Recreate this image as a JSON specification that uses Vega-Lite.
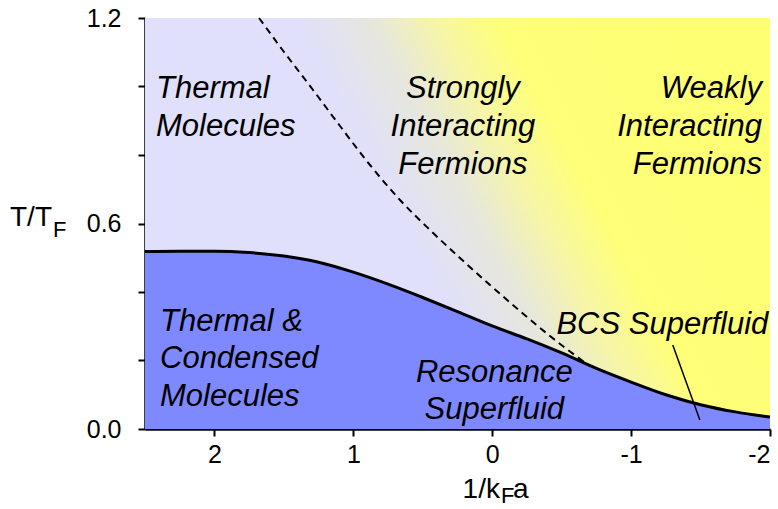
{
  "$schema": "https://vega.github.io/schema/vega-lite/v6.json",
  "width": 625,
  "height": 411,
  "autosize": {"type": "none"},
  "padding": {"left": 145, "top": 18, "right": 8, "bottom": 80},
  "background": "white",
  "config": {
    "view": {"stroke": null},
    "axis": {
      "grid": false,
      "domainColor": "black",
      "domainWidth": 2.5,
      "tickColor": "black",
      "tickWidth": 2,
      "tickSize": 7,
      "labelColor": "black",
      "labelFont": "Liberation Sans",
      "labelFontSize": 25
    }
  },
  "datasets": {
    "bg": [{"x": 2.5, "x2": -2, "y": 0, "y2": 1.2}],
    "tc": [
      {"x": 2.5, "y": 0.518}, {"x": 2.25, "y": 0.519}, {"x": 2.0, "y": 0.519},
      {"x": 1.75, "y": 0.515}, {"x": 1.5, "y": 0.505}, {"x": 1.25, "y": 0.487},
      {"x": 1.0, "y": 0.458}, {"x": 0.75, "y": 0.423}, {"x": 0.5, "y": 0.384},
      {"x": 0.25, "y": 0.343}, {"x": 0.0, "y": 0.301}, {"x": -0.25, "y": 0.263},
      {"x": -0.5, "y": 0.222}, {"x": -0.75, "y": 0.177}, {"x": -1.0, "y": 0.137},
      {"x": -1.25, "y": 0.100}, {"x": -1.5, "y": 0.071}, {"x": -1.75, "y": 0.050},
      {"x": -2.0, "y": 0.035}
    ],
    "dash": [
      {"x": 1.679, "y": 1.2}, {"x": 1.499, "y": 1.1007}, {"x": 1.29, "y": 0.9898},
      {"x": 1.096, "y": 0.8847}, {"x": 0.88, "y": 0.7708}, {"x": 0.664, "y": 0.6686},
      {"x": 0.448, "y": 0.581}, {"x": 0.232, "y": 0.4993}, {"x": 0.016, "y": 0.4204},
      {"x": -0.2, "y": 0.3445}, {"x": -0.416, "y": 0.2715}, {"x": -0.704, "y": 0.183}
    ],
    "pointer": [{"x": -1.30, "y": 0.245, "x2": -1.495, "y2": 0.026}],
    "labels": [
      {"t": "Thermal", "x": 2.421, "y": 0.9664, "al": "left"},
      {"t": "Molecules", "x": 2.421, "y": 0.8555, "al": "left"},
      {"t": "Strongly", "x": 0.211, "y": 0.9664, "al": "center"},
      {"t": "Interacting", "x": 0.211, "y": 0.8555, "al": "center"},
      {"t": "Fermions", "x": 0.211, "y": 0.7445, "al": "center"},
      {"t": "Weakly", "x": -1.942, "y": 0.9664, "al": "right"},
      {"t": "Interacting", "x": -1.942, "y": 0.8555, "al": "right"},
      {"t": "Fermions", "x": -1.942, "y": 0.7445, "al": "right"},
      {"t": "Thermal &", "x": 2.392, "y": 0.2861, "al": "left"},
      {"t": "Condensed", "x": 2.392, "y": 0.1781, "al": "left"},
      {"t": "Molecules", "x": 2.392, "y": 0.0672, "al": "left"},
      {"t": "Resonance", "x": -0.015, "y": 0.1372, "al": "center"},
      {"t": "Superfluid", "x": -0.015, "y": 0.0292, "al": "center"},
      {"t": "BCS Superfluid", "x": -1.225, "y": 0.2774, "al": "center"}
    ],
    "titles": [
      {"t": "T/T", "x": 3.1695, "y": 0.5927, "fs": 28, "al": "right"},
      {"t": "F", "x": 3.162, "y": 0.5606, "fs": 22, "al": "left"},
      {"t": "1/k", "x": -0.0558, "y": -0.2015, "fs": 28, "al": "right"},
      {"t": "F", "x": -0.063, "y": -0.2161, "fs": 22, "al": "left"},
      {"t": "a", "x": -0.149, "y": -0.2015, "fs": 28, "al": "left"}
    ]
  },
  "encoding": {
    "x": {
      "field": "x", "type": "quantitative",
      "scale": {"domain": [-2, 2.5], "reverse": true, "nice": false, "zero": false},
      "axis": {"values": [2, 1, 0, -1, -2], "labelExpr": "'' + datum.value", "title": null, "labelPadding": 6}
    },
    "y": {
      "field": "y", "type": "quantitative",
      "scale": {"domain": [0, 1.2], "nice": false, "zero": false},
      "axis": {
        "values": [0, 0.2, 0.4, 0.6, 0.8, 1.0, 1.2],
        "labelExpr": "datum.value === 0 ? '0.0' : (abs(datum.value - 0.6) < 0.001 ? '0.6' : (abs(datum.value - 1.2) < 0.001 ? '1.2' : ''))",
        "title": null,
        "labelPadding": 17
      }
    }
  },
  "layer": [
    {
      "data": {"name": "bg"},
      "mark": {
        "type": "rect",
        "color": {
          "gradient": "linear", "x1": 0, "y1": 0.5, "x2": 1, "y2": 0.15,
          "stops": [
            {"offset": 0, "color": "#e0e0fc"},
            {"offset": 0.37, "color": "#e0e0fb"},
            {"offset": 0.48, "color": "#e7e7dc"},
            {"offset": 0.57, "color": "#f6f6a6"},
            {"offset": 0.66, "color": "#ffff78"},
            {"offset": 1, "color": "#ffff73"}
          ]
        }
      },
      "encoding": {"x2": {"field": "x2"}, "y2": {"field": "y2"}}
    },
    {
      "data": {"name": "tc"},
      "mark": {"type": "area", "fill": "#7f89ff", "fillOpacity": 1, "opacity": 1, "orient": "vertical"},
      "encoding": {
        "y": {
          "field": "y", "type": "quantitative", "stack": null,
          "scale": {"domain": [0, 1.2], "nice": false, "zero": false}
        },
        "y2": {"datum": 0}
      }
    },
    {
      "data": {"name": "tc"},
      "mark": {"type": "line", "color": "black", "strokeWidth": 3, "interpolate": "monotone"},
      "encoding": {"order": {"field": "x", "sort": "descending"}}
    },
    {
      "data": {"name": "dash"},
      "mark": {"type": "line", "color": "black", "strokeWidth": 2, "strokeDash": [7, 5], "interpolate": "monotone"},
      "encoding": {"order": {"field": "x", "sort": "descending"}}
    },
    {
      "data": {"name": "pointer"},
      "mark": {"type": "rule", "color": "black", "strokeWidth": 1.5},
      "encoding": {"x2": {"field": "x2"}, "y2": {"field": "y2"}}
    },
    {
      "data": {"name": "labels"},
      "transform": [{"filter": "datum.al === 'left'"}],
      "mark": {"type": "text", "align": "left", "baseline": "alphabetic", "font": "Liberation Sans", "fontStyle": "italic", "fontSize": 31, "color": "black"},
      "encoding": {"text": {"field": "t"}}
    },
    {
      "data": {"name": "labels"},
      "transform": [{"filter": "datum.al === 'center'"}],
      "mark": {"type": "text", "align": "center", "baseline": "alphabetic", "font": "Liberation Sans", "fontStyle": "italic", "fontSize": 31, "color": "black"},
      "encoding": {"text": {"field": "t"}}
    },
    {
      "data": {"name": "labels"},
      "transform": [{"filter": "datum.al === 'right'"}],
      "mark": {"type": "text", "align": "right", "baseline": "alphabetic", "font": "Liberation Sans", "fontStyle": "italic", "fontSize": 31, "color": "black"},
      "encoding": {"text": {"field": "t"}}
    },
    {
      "data": {"name": "titles"},
      "transform": [{"filter": "datum.al === 'right'"}],
      "mark": {"type": "text", "align": "right", "baseline": "alphabetic", "font": "Liberation Sans", "color": "black"},
      "encoding": {"text": {"field": "t"}, "size": {"field": "fs", "type": "quantitative", "scale": null}}
    },
    {
      "data": {"name": "titles"},
      "transform": [{"filter": "datum.al === 'left'"}],
      "mark": {"type": "text", "align": "left", "baseline": "alphabetic", "font": "Liberation Sans", "color": "black"},
      "encoding": {"text": {"field": "t"}, "size": {"field": "fs", "type": "quantitative", "scale": null}}
    }
  ]
}
